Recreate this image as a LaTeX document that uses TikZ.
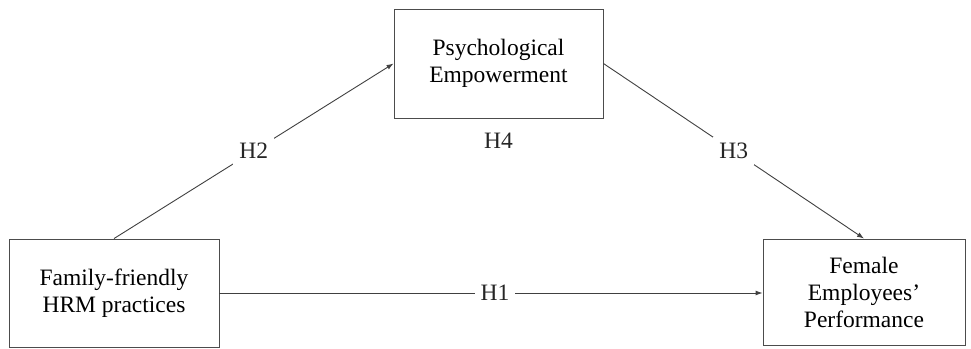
\documentclass[tikz,border=0pt]{standalone}
\usepackage{fontspec}
\setmainfont{Liberation Serif}
\usetikzlibrary{arrows.meta}
\usetikzlibrary{positioning}

\begin{document}
\begin{tikzpicture}[
	x=1pt,
	y=-1pt,
	font=\fontsize{23.5}{27}\selectfont]

\tikzstyle{construct}=[draw=black!70,line width=0.9pt,align=center,inner sep=0pt]
\tikzstyle{path line}=[draw=black!75,line width=0.9pt,-{Latex[length=7pt,width=5pt]}]
\tikzstyle{hyp}=[fill=white,inner sep=6pt,text=black!85]

\useasboundingbox (0,0) rectangle (971,348);

% Constructs
\node[construct,minimum width=210pt,minimum height=108pt] (hrm) at (114,293)
	{Family-friendly\\HRM practices};
\node[construct,minimum width=209pt,minimum height=109pt] (emp) at (498.5,63.5)
	{Psychological\\Empowerment};
\node[construct,minimum width=202pt,minimum height=106pt] (perf) at (864,292)
	{Female\\Employees'\\Performance};

% direct effect
\draw[path line] (hrm.east) -- (perf.west |- hrm.east)
	node[hyp,midway,xshift=4pt] (h1) {H1};

% mediation paths
\draw[path line] (hrm.north) -- (emp.west)
	node[hyp,midway] (h2) {H2};
\draw[path line] (emp.east) -- (perf.north)
	node[hyp,midway] (h3) {H3};

% indirect effect
\node[below=14pt of emp,inner sep=0pt,text=black!85] (h4) {H4};

\end{tikzpicture}
\end{document}
